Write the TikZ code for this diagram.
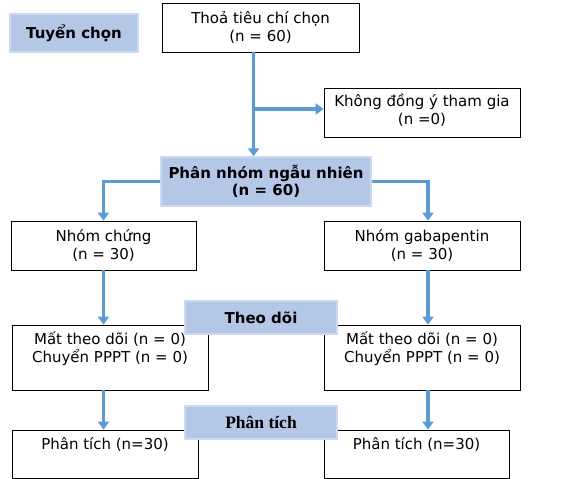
\documentclass[tikz,border=0pt]{standalone}
\usepackage{fontspec}
\setmainfont{DejaVu Sans}
\newfontfamily\serifbold{Liberation Serif}
\usetikzlibrary{arrows.meta}
\definecolor{lblfill}{HTML}{B4C7E7}
\definecolor{lbldraw}{HTML}{CCD9EF}
\definecolor{arr}{HTML}{5B9BD5}
\begin{document}
\begin{tikzpicture}[x=1pt,y=-1pt,
  box/.style={draw=black, line width=0.8pt, fill=white, inner sep=0pt, align=center,
    font=\fontsize{15}{17.5}\selectfont},
  lbl/.style={draw=lbldraw, line width=1.5pt, fill=lblfill, inner sep=0pt, align=center,
    font=\fontsize{15}{17.5}\selectfont\bfseries},
  flow/.style={draw=arr, line width=3.2pt, -{Triangle[width=11pt,length=8pt]}}]
\useasboundingbox (0,0) rectangle (581,479);

% boxes
\node[box, minimum width=197, minimum height=49] (sel) at (260.5,27.5) {Thoả tiêu chí chọn\\(n = 60)};
\node[box, minimum width=196, minimum height=49, text depth=7] (nag) at (422,112.5) {Không đồng ý tham gia\\(n =0)};
\node[lbl, minimum width=128, minimum height=38] (tc) at (74,33) {Tuyển chọn};
\node[lbl, minimum width=210, minimum height=49] (rand) at (266,181.5) {Phân nhóm ngẫu nhiên\\(n = 60)};
\node[box, minimum width=185, minimum height=49] (ctl) at (103.5,245.5) {Nhóm chứng\\(n = 30)};
\node[box, minimum width=196, minimum height=49] (gab) at (422,245.5) {Nhóm gabapentin\\(n = 30)};
\node[box, minimum width=196, minimum height=65, text depth=20.5] (fl1) at (110,357.5) {Mất theo dõi (n = 0)\\Chuyển PPPT (n = 0)};
\node[box, minimum width=196, minimum height=65, text depth=20.5] (fl2) at (422,357.5) {Mất theo dõi (n = 0)\\Chuyển PPPT (n = 0)};
\node[box, minimum width=186, minimum height=48, text depth=21.5] (an1) at (105,454) {Phân tích (n=30)};
\node[box, minimum width=185, minimum height=48, text depth=21.5] (an2) at (416.5,454) {Phân tích (n=30)};
\node[lbl, minimum width=152, minimum height=33] (td) at (261,317.5) {Theo dõi};
\node[lbl, minimum width=152, minimum height=33, font=\fontsize{17.5}{20}\serifbold\bfseries] (pt) at (261,422.5) {Phân tích};

% connectors
\coordinate (c1) at ([xshift=92]sel.south west);
\draw[flow] (c1) -- (c1 |- rand.north);
\draw[flow] ([yshift=3.5]c1 |- nag.west) -- ([yshift=3.5]nag.west);
\draw[flow] (rand.west) -| (ctl.north);
\coordinate (c2) at ([xshift=6]gab.north);
\draw[flow] (rand.east) -| (c2);
\draw[flow] (ctl.south) -- (ctl.south |- fl1.north);
\draw[flow] (c2 |- gab.south) -- (c2 |- fl2.north);
\draw[flow] (ctl.south |- fl1.south) -- (ctl.south |- an1.north);
\draw[flow] (c2 |- fl2.south) -- (c2 |- an2.north);
\end{tikzpicture}
\end{document}
